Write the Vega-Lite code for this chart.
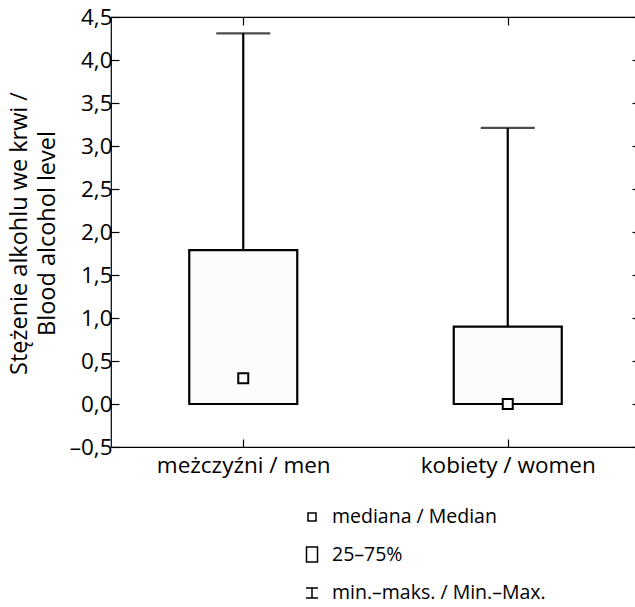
{
  "$schema": "https://vega.github.io/schema/vega-lite/v6.json",
  "width": 529,
  "height": 430,
  "autosize": {"type": "none"},
  "padding": {"left": 111, "top": 17, "right": 0, "bottom": 160},
  "background": "white",
  "config": {
    "font": "Open Sans",
    "view": {"stroke": "black", "strokeWidth": 1.2},
    "axis": {
      "grid": false,
      "domain": false,
      "tickColor": "black",
      "tickWidth": 1.2,
      "tickSize": -8,
      "labelColor": "black",
      "labelFontSize": 22.5,
      "titleColor": "black",
      "titleFontWeight": "normal"
    }
  },
  "data": {
    "values": [
      {"group": "meżczyźni / men", "stat": "mediana / Median", "min": 0, "q1": 0, "median": 0.3, "q3": 1.79, "max": 4.31},
      {"group": "kobiety / women", "stat": "mediana / Median", "min": 0, "q1": 0, "median": 0, "q3": 0.9, "max": 3.21}
    ]
  },
  "layer": [
    {
      "mark": {"type": "rule", "stroke": "black", "strokeWidth": 2.2},
      "encoding": {
        "x": {"field": "group", "type": "nominal", "sort": null, "scale": {"type": "point", "padding": 0.5},
              "axis": {"orient": "bottom", "title": null, "labelPadding": 15, "labelAngle": 0}},
        "y": {"field": "min", "type": "quantitative",
              "scale": {"domain": [-0.5, 4.5], "nice": false, "zero": false},
              "axis": {
                "orient": "left",
                "values": [-0.5, 0, 0.5, 1, 1.5, 2, 2.5, 3, 3.5, 4, 4.5],
                "labelExpr": "replace(replace(replace(format(datum.value, '.1f'), '.', ','), '\u2212', '\u2013'), '-', '\u2013')",
                "labelPadding": 7,
                "title": ["Stężenie alkohlu we krwi /", "Blood alcohol level"],
                "titleFontSize": 23.5,
                "titleAngle": -90,
                "titleX": -104,
                "titleY": 216,
                "titleAlign": "center",
                "titleBaseline": "top",
                "titleLineHeight": 28
              }},
        "y2": {"field": "max"}
      }
    },
    {
      "mark": {"type": "tick", "color": "black", "size": 54, "thickness": 2.2},
      "encoding": {
        "x": {"field": "group", "type": "nominal", "sort": null,
              "axis": {"orient": "top", "title": null, "labels": false}},
        "y": {"field": "max", "type": "quantitative",
              "axis": {"orient": "right", "title": null, "labels": false,
                       "values": [-0.5, 0, 0.5, 1, 1.5, 2, 2.5, 3, 3.5, 4, 4.5]}}
      }
    },
    {
      "mark": {"type": "bar", "size": 108, "fill": "#fcfcfc", "stroke": "black", "strokeWidth": 2.2},
      "encoding": {
        "x": {"field": "group", "type": "nominal", "sort": null, "axis": null},
        "y": {"field": "q1", "type": "quantitative", "axis": null},
        "y2": {"field": "q3"}
      }
    },
    {
      "mark": {"type": "point", "filled": false, "color": "black", "fill": "white", "strokeWidth": 2, "size": 625, "opacity": 1},
      "encoding": {
        "x": {"field": "group", "type": "nominal", "sort": null, "axis": null},
        "y": {"field": "median", "type": "quantitative", "axis": null},
        "shape": {
          "field": "stat",
          "type": "nominal",
          "scale": {
            "domain": ["mediana / Median", "25–75%", "min.–maks. / Min.–Max."],
            "range": [
              "M-0.4,-0.4H0.4V0.4H-0.4Z",
              "M-0.55,-0.75H0.55V0.75H-0.55Z",
              "M-0.6,-0.5H0.6M0,-0.5V0.5M-0.6,0.5H0.6"
            ]
          },
          "legend": {
            "orient": "none",
            "legendX": 190,
            "legendY": 489,
            "direction": "vertical",
            "title": null,
            "labelFontSize": 19.5,
            "labelColor": "black",
            "labelOffset": 9,
            "labelLimit": 400,
            "rowPadding": 16.5,
            "padding": 0,
            "symbolSize": 400,
            "encode": {
              "symbols": {
                "update": {
                  "fill": {"value": "white"},
                  "stroke": {"value": "black"},
                  "strokeWidth": {"value": 1.3},
                  "opacity": {"value": 1},
                  "size": {"value": 400}
                }
              }
            }
          }
        }
      }
    }
  ],
  "resolve": {"axis": {"x": "independent", "y": "independent"}}
}
